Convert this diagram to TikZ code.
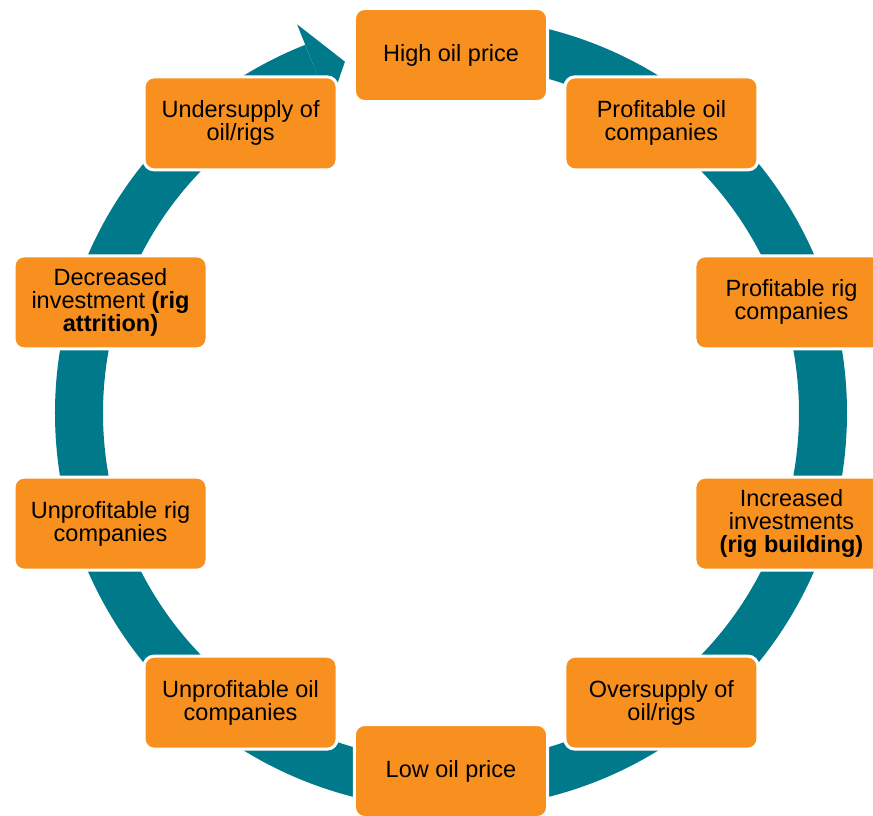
\documentclass[tikz,border=0pt]{standalone}
\usepackage{fontspec}
\setmainfont{Liberation Sans}
\definecolor{ringteal}{HTML}{00798A}
\definecolor{boxorange}{HTML}{F7901E}
\begin{document}
\begin{tikzpicture}[x=1pt,y=1pt,
  stagebox/.style={rectangle, rounded corners=10pt, fill=boxorange, draw=white,
    line width=3pt, minimum width=193pt, minimum height=93pt, align=center,
    inner sep=0pt, text=black, font=\fontsize{23.5}{23}\selectfont}]
\useasboundingbox (-451,-402) rectangle (422,413);
% circular arrow running clockwise
\draw[ringteal, line width=48pt] (90:372) arc[start angle=90, end angle=-248.4, radius=372];
\fill[ringteal] (111.6:418) -- (106.8:367) -- (111.6:330) -- cycle;
% stages of the cycle
\node[stagebox] (n1)  at (90:358)   {High oil price};
\node[stagebox] (n2)  at (54:358)   {Profitable oil\\companies};
\node[stagebox] (n3)  at (18:358)   {Profitable rig\\companies};
\node[stagebox] (n4)  at (-18:358)  {Increased\\investments\\\textbf{(rig building)}};
\node[stagebox] (n5)  at (-54:358)  {Oversupply of\\oil/rigs};
\node[stagebox] (n6)  at (-90:358)  {Low oil price};
\node[stagebox] (n7)  at (-126:358) {Unprofitable oil\\companies};
\node[stagebox] (n8)  at (-162:358) {Unprofitable rig\\companies};
\node[stagebox] (n9)  at (162:358)  {Decreased\\investment \textbf{(rig}\\\textbf{attrition)}};
\node[stagebox] (n10) at (126:358)  {Undersupply of\\oil/rigs};
\end{tikzpicture}
\end{document}
